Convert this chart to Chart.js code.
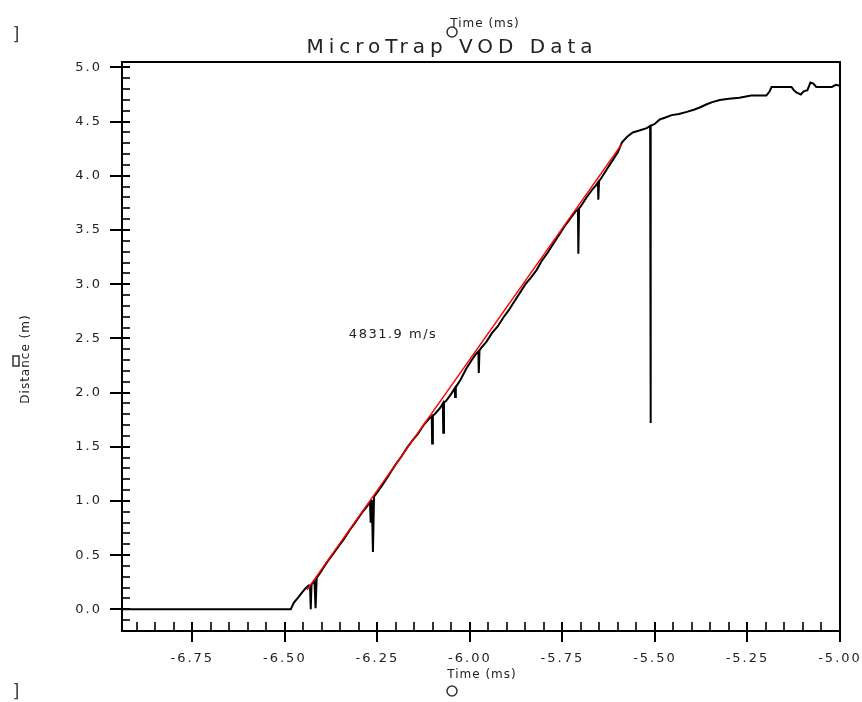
<!DOCTYPE html>
<html>
<head>
<meta charset="utf-8">
<script src="https://cdn.jsdelivr.net/npm/chart.js@4"></script>
<style>
  html, body { margin: 0; padding: 0; background: #fff; }
  #wrap { width: 862px; height: 702px; }
</style>
</head>
<body>
<div id="wrap"><canvas id="vodChart" width="862" height="702"></canvas></div>
<script>
// measured trace (time in ms, distance in m)
const timeMs = [
  -6.94, -6.484, -6.476, -6.466, -6.457, -6.445, -6.436, -6.432, -6.430, -6.428, -6.420, -6.417, -6.414,
  -6.400, -6.385, -6.370, -6.355, -6.340, -6.325, -6.310, -6.300, -6.292, -6.280, -6.270, -6.268, -6.265,
  -6.262, -6.259, -6.250, -6.240, -6.230, -6.215, -6.200, -6.185, -6.170, -6.155, -6.140, -6.125, -6.110,
  -6.103, -6.102, -6.100, -6.095, -6.080, -6.073, -6.072, -6.070, -6.065, -6.050, -6.041, -6.040, -6.038,
  -6.025, -6.010, -5.995, -5.985, -5.977, -5.976, -5.974, -5.970, -5.955, -5.940, -5.925, -5.910, -5.895,
  -5.880, -5.865, -5.850, -5.835, -5.820, -5.805, -5.790, -5.775, -5.760, -5.745, -5.730, -5.715, -5.708,
  -5.707, -5.705, -5.700, -5.685, -5.670, -5.660, -5.654, -5.653, -5.651, -5.645, -5.630, -5.615, -5.600,
  -5.589, -5.575, -5.560, -5.540, -5.522, -5.513, -5.512, -5.511, -5.500, -5.487, -5.470, -5.455, -5.435,
  -5.414, -5.395, -5.379, -5.360, -5.345, -5.325, -5.300, -5.272, -5.240, -5.199, -5.190, -5.185, -5.131,
  -5.125, -5.118, -5.106, -5.098, -5.088, -5.080, -5.072, -5.064, -5.022, -5.011, -5.000
];
const distanceM = [
  0.00, 0.00, 0.06, 0.10, 0.14, 0.19, 0.22, 0.22, 0.00, 0.23, 0.26, 0.01, 0.29,
  0.36, 0.44, 0.51, 0.58, 0.65, 0.73, 0.80, 0.85, 0.89, 0.94, 0.99, 0.80, 1.01,
  0.53, 1.04, 1.08, 1.13, 1.18, 1.26, 1.34, 1.41, 1.49, 1.56, 1.62, 1.70, 1.76,
  1.78, 1.53, 1.79, 1.80, 1.86, 1.90, 1.63, 1.91, 1.92, 1.99, 2.04, 1.96, 2.05,
  2.12, 2.22, 2.30, 2.35, 2.38, 2.18, 2.39, 2.41, 2.47, 2.55, 2.61, 2.69, 2.76,
  2.84, 2.92, 3.00, 3.06, 3.13, 3.22, 3.29, 3.37, 3.45, 3.53, 3.60, 3.67, 3.69,
  3.28, 3.70, 3.72, 3.80, 3.87, 3.91, 3.94, 3.78, 3.95, 3.98, 4.06, 4.14, 4.22,
  4.31, 4.36, 4.40, 4.42, 4.44, 4.46, 1.72, 4.46, 4.48, 4.52, 4.54, 4.56, 4.57,
  4.59, 4.61, 4.63, 4.66, 4.68, 4.70, 4.71, 4.72, 4.74, 4.74, 4.78, 4.82, 4.82,
  4.79, 4.77, 4.75, 4.78, 4.79, 4.86, 4.85, 4.82, 4.82, 4.84, 4.83
];

// linear fit (red)
const fitTimeMs = [-6.44, -5.59];
const fitDistanceM = [0.18, 4.29];

const xRange = [-6.94, -5.0];
const yRange = [-0.2, 5.05];
const xStep = 0.25;
const yStep = 0.5;

const titleText = 'MicroTrap VOD Data';
const xAxisTitle = 'Time (ms)';
const yAxisTitle = 'Distance (m)';
const fitLabel = '4831.9 m/s';
const fitLabelAt = [-6.327, 2.55];

const traceData = timeMs.map((t, i) => ({ x: t, y: distanceM[i] }));
const fitData = fitTimeMs.map((t, i) => ({ x: t, y: fitDistanceM[i] }));

Chart.defaults.font.family = "'DejaVu Sans', sans-serif";

// frame, ticks and loose texts
const framePlugin = {
    id: 'frame',
    beforeDraw(chart) {
        chart.ctx.letterSpacing = '2px';
    },
    afterDraw(chart) {
        const { ctx, chartArea: a, scales: { x, y } } = chart;
        ctx.save();
        ctx.letterSpacing = '0px';
        ctx.strokeStyle = '#000';
        ctx.lineWidth = 2;
        ctx.strokeRect(a.left, a.top, a.right - a.left, a.bottom - a.top);

        // y ticks: minor every 0.1, major every 0.5
        for (let k = Math.ceil(yRange[0] * 10); k <= Math.floor(yRange[1] * 10); k++) {
            const py = Math.round(y.getPixelForValue(k / 10));
            const major = k % 5 === 0;
            ctx.lineWidth = major ? 2 : 1.6;
            ctx.beginPath();
            ctx.moveTo(major ? a.left - 12 : a.left, py);
            ctx.lineTo(a.left + 8, py);
            ctx.stroke();
        }
        // x ticks: minor every 0.05, major every 0.25
        for (let k = Math.ceil(xRange[0] * 20); k <= Math.floor(xRange[1] * 20 + 1e-9); k++) {
            const px = Math.round(x.getPixelForValue(k / 20));
            const major = k % 5 === 0;
            ctx.lineWidth = major ? 2 : 1.6;
            ctx.beginPath();
            ctx.moveTo(px, a.bottom - 9);
            ctx.lineTo(px, major ? a.bottom + 11 : a.bottom);
            ctx.stroke();
        }

        ctx.fillStyle = '#222';
        ctx.textBaseline = 'alphabetic';

        // title
        ctx.font = "20px 'DejaVu Sans'";
        ctx.letterSpacing = '5px';
        ctx.textAlign = 'center';
        ctx.fillText(titleText, 452, 53);

        // fit speed label
        ctx.font = "13px 'DejaVu Sans'";
        ctx.letterSpacing = '1.5px';
        ctx.textAlign = 'left';
        ctx.fillText(fitLabel, x.getPixelForValue(fitLabelAt[0]), y.getPixelForValue(fitLabelAt[1]) + 5);

        // axis titles (top copy, bottom, left)
        ctx.font = "12px 'DejaVu Sans'";
        ctx.letterSpacing = '1px';
        ctx.textAlign = 'center';
        ctx.fillText(xAxisTitle, 485, 27);
        ctx.fillText(xAxisTitle, 482, 678);
        ctx.save();
        ctx.translate(29, 359);
        ctx.rotate(-Math.PI / 2);
        ctx.fillText(yAxisTitle, 0, 0);
        ctx.restore();

        // little markers
        ctx.letterSpacing = '0px';
        ctx.strokeStyle = '#333';
        ctx.lineWidth = 1.5;
        [[452, 32], [452, 691]].forEach(([cx, cy]) => {
            ctx.beginPath();
            ctx.arc(cx, cy, 5, 0, Math.PI * 2);
            ctx.stroke();
        });
        ctx.strokeRect(13, 356, 6, 10);
        ctx.font = "18px 'DejaVu Sans'";
        ctx.fillStyle = '#444';
        ctx.textAlign = 'center';
        ctx.fillText(']', 16, 40);
        ctx.fillText(']', 16, 697);
        ctx.restore();
    }
};

const ctx = document.getElementById('vodChart').getContext('2d');
new Chart(ctx, {
    type: 'line',
    data: {
        datasets: [
            {
                label: 'Fit',
                data: fitData,
                borderColor: '#ff0000',
                borderWidth: 1.5,
                pointRadius: 0,
                order: 0,
            },
            {
                label: 'Distance',
                data: traceData,
                borderColor: '#000000',
                borderWidth: 2,
                pointRadius: 0,
                order: 1,
            },
        ],
    },
    options: {
        responsive: false,
        animation: false,
        layout: {
            padding: { top: 62, right: 22, left: 0, bottom: 0 },
        },
        plugins: {
            legend: { display: false },
            tooltip: { enabled: false },
            title: { display: false },
        },
        scales: {
            x: {
                type: 'linear',
                min: xRange[0],
                max: xRange[1],
                grid: { display: false, drawTicks: false },
                border: { display: false },
                ticks: {
                    stepSize: xStep,
                    includeBounds: false,
                    padding: 20,
                    color: '#222',
                    font: { size: 13 },
                    maxRotation: 0,
                    autoSkip: false,
                    callback: (v) => v.toFixed(2),
                },
                afterFit: (scale) => {
                    scale.height = 71;
                    scale.paddingLeft = 0;
                    scale.paddingRight = 0;
                },
            },
            y: {
                type: 'linear',
                min: yRange[0],
                max: yRange[1],
                grid: { display: false, drawTicks: false },
                border: { display: false },
                ticks: {
                    stepSize: yStep,
                    includeBounds: false,
                    padding: 20,
                    color: '#222',
                    font: { size: 13 },
                    autoSkip: false,
                    callback: (v) => v.toFixed(1),
                },
                afterFit: (scale) => {
                    scale.width = 122;
                    scale.paddingTop = 0;
                    scale.paddingBottom = 0;
                },
            },
        },
    },
    plugins: [framePlugin],
});
</script>
</body>
</html>
